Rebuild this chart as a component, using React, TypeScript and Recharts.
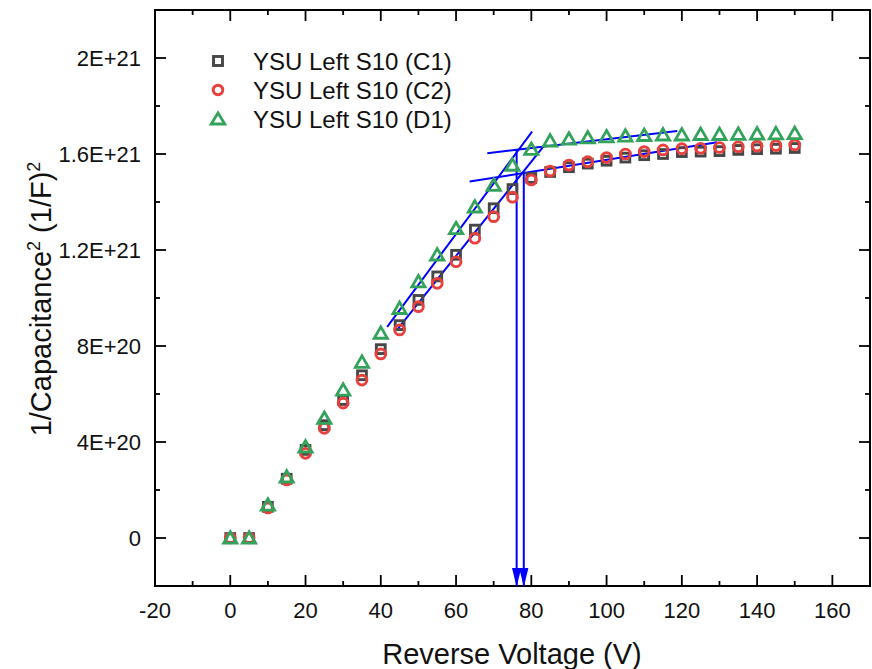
import { ScatterChart, Scatter, XAxis, YAxis, ReferenceLine, ReferenceArea, ReferenceDot } from 'recharts';

// values in units of 1e20 (1/F^2)
const UNIT = 1e20;
const voltage = [0, 5, 10, 15, 20, 25, 30, 35, 40, 45, 50, 55, 60, 65, 70, 75, 80, 85, 90, 95, 100, 105, 110, 115, 120, 125, 130, 135, 140, 145, 150];
const c1 = [0, 0, 1.3, 2.47, 3.67, 4.7, 5.75, 6.78, 7.87, 8.87, 9.92, 10.9, 11.8, 12.85, 13.74, 14.54, 15.0, 15.25, 15.45, 15.6, 15.72, 15.85, 15.95, 16.0, 16.08, 16.1, 16.12, 16.17, 16.2, 16.22, 16.25];
const c2 = [0, 0, 1.25, 2.42, 3.53, 4.57, 5.62, 6.58, 7.67, 8.67, 9.64, 10.61, 11.51, 12.49, 13.39, 14.2, 14.92, 15.29, 15.54, 15.68, 15.85, 16.0, 16.1, 16.17, 16.22, 16.24, 16.27, 16.3, 16.33, 16.35, 16.38];
const d1 = [0, 0, 1.38, 2.55, 3.8, 4.99, 6.17, 7.33, 8.54, 9.57, 10.68, 11.8, 12.9, 13.8, 14.7, 15.54, 16.2, 16.55, 16.63, 16.68, 16.72, 16.75, 16.78, 16.8, 16.8, 16.82, 16.82, 16.83, 16.84, 16.85, 16.86];

// linear fits [x, y] endpoints (y in 1e20)
const fitD1Steep = [[41.7, 8.8], [80.2, 16.93]];
const fitC1Steep = [[44.3, 8.67], [83.3, 16.33]];
const fitD1Flat = [[68.3, 16.03], [118.8, 16.96]];
const fitC1Flat = [[63.6, 14.85], [129.4, 16.49]];
const dropLeft = [[76.1, 16.18], [76.1, -2]];
const dropRight = [[78.0, 15.2], [78.0, -2]];

const xMajor = [-20, 0, 20, 40, 60, 80, 100, 120, 140, 160];
const xMinor = [-10, 10, 30, 50, 70, 90, 110, 130, 150];
const yMajor = [0, 4e20, 8e20, 1.2e21, 1.6e21, 2e21];
const yMajorLabels = ['0', '4E+20', '8E+20', '1.2E+21', '1.6E+21', '2E+21'];
const yMinor = [2e20, 6e20, 1e21, 1.4e21, 1.8e21];

const seriesNames = ['YSU Left S10 (C1)', 'YSU Left S10 (C2)', 'YSU Left S10 (D1)'];

const W = 872;
const H = 669;
const X_AXIS_H = 83;
const Y_AXIS_W = 155;
const MARGIN = { top: 10, right: 2, bottom: 0, left: 0 };
const PLOT_T = MARGIN.top;
const PLOT_B = H - X_AXIS_H;
const PLOT_R = W - MARGIN.right;
const PLOT_L = Y_AXIS_W;
const FONT = '"Liberation Sans", Arial, Helvetica, sans-serif';

const GRAY = '#474747';
const RED = '#e8403c';
const GREEN = '#33a35b';
const BLUE = '#0000ff';

const toPoints = (ys: number[]) => voltage.map((x, i) => ({ x, y: ys[i] * UNIT }));
const seg = (p: number[][]) => p.map(([x, y]) => ({ x, y: y * UNIT }));

const Square = ({ cx, cy }: any) => (
  <rect x={cx - 4.4} y={cy - 4.4} width={8.8} height={8.8} fill="none" stroke={GRAY} strokeWidth={2.9} />
);
const Circle = ({ cx, cy }: any) => <circle cx={cx} cy={cy} r={4.9} fill="none" stroke={RED} strokeWidth={2.9} />;
const Triangle = ({ cx, cy }: any) => (
  <polygon
    points={`${cx},${cy - 6.2} ${cx + 6.6},${cy + 5.2} ${cx - 6.6},${cy + 5.2}`}
    fill="none"
    stroke={GREEN}
    strokeWidth={2.8}
    strokeLinejoin="miter"
  />
);
const Arrow = ({ cx, cy }: any) => (
  <polygon points={`${cx},${cy + 1} ${cx - 4.6},${cy - 18} ${cx + 4.6},${cy - 18}`} fill={BLUE} />
);

const XTick = ({ x, payload }: any) => {
  const v = payload.value;
  const major = xMajor.includes(v);
  const len = major ? 11 : 5;
  return (
    <g>
      <line x1={x} x2={x} y1={PLOT_B} y2={PLOT_B - len} stroke="#000" strokeWidth={1.8} />
      <line x1={x} x2={x} y1={PLOT_T} y2={PLOT_T + len} stroke="#000" strokeWidth={1.8} />
      {major && (
        <text x={x} y={618} textAnchor="middle" fontSize={22} fontFamily={FONT} fill="#111">
          {v}
        </text>
      )}
    </g>
  );
};

const YTick = ({ y, payload }: any) => {
  const v = payload.value;
  const idx = yMajor.indexOf(v);
  const len = idx >= 0 ? 11 : 5;
  return (
    <g>
      <line x1={PLOT_L} x2={PLOT_L + len} y1={y} y2={y} stroke="#000" strokeWidth={1.8} />
      <line x1={PLOT_R} x2={PLOT_R - len} y1={y} y2={y} stroke="#000" strokeWidth={1.8} />
      {idx >= 0 && (
        <text x={141} y={y + 8} textAnchor="end" fontSize={22} fontFamily={FONT} fill="#111">
          {yMajorLabels[idx]}
        </text>
      )}
    </g>
  );
};

const legendIcons = [
  <rect key="s" x={-4.5} y={-4.5} width={9} height={9} fill="none" stroke={GRAY} strokeWidth={2.9} />,
  <circle key="c" cx={0} cy={0} r={4.8} fill="none" stroke={RED} strokeWidth={2.9} />,
  <polygon key="t" points="0,-6 6.8,5 -6.8,5" fill="none" stroke={GREEN} strokeWidth={2.8} />,
];

export default function App() {
  const yTicks = [...yMajor, ...yMinor].sort((a, b) => a - b);
  const xTicks = [...xMajor, ...xMinor].sort((a, b) => a - b);

  return (
    <div style={{ position: 'absolute', left: 0, top: 0, width: W, height: H, background: '#fff' }}>
      <ScatterChart width={W} height={H} margin={MARGIN}>
        <XAxis
          type="number"
          dataKey="x"
          domain={[-20, 170]}
          ticks={xTicks}
          interval={0}
          height={X_AXIS_H}
          axisLine={false}
          tickLine={false}
          tick={<XTick />}
          allowDataOverflow
        />
        <YAxis
          type="number"
          dataKey="y"
          domain={[-2e20, 2.2e21]}
          ticks={yTicks}
          interval={0}
          width={Y_AXIS_W}
          axisLine={false}
          tickLine={false}
          tick={<YTick />}
          allowDataOverflow
        />
        <ReferenceArea x1={-20} x2={170} y1={-2e20} y2={2.2e21} fill="none" stroke="#000" strokeWidth={2} ifOverflow="visible" />
        <Scatter name={seriesNames[0]} data={toPoints(c1)} shape={<Square />} isAnimationActive={false} />
        <Scatter name={seriesNames[1]} data={toPoints(c2)} shape={<Circle />} isAnimationActive={false} />
        <Scatter name={seriesNames[2]} data={toPoints(d1)} shape={<Triangle />} isAnimationActive={false} />
        {[fitD1Steep, fitC1Steep, fitD1Flat, fitC1Flat, dropLeft, dropRight].map((s, i) => (
          <ReferenceLine key={i} segment={seg(s)} stroke={BLUE} strokeWidth={2} ifOverflow="visible" />
        ))}
        <ReferenceDot x={dropLeft[1][0]} y={dropLeft[1][1] * UNIT} shape={<Arrow />} ifOverflow="visible" />
        <ReferenceDot x={dropRight[1][0]} y={dropRight[1][1] * UNIT} shape={<Arrow />} ifOverflow="visible" />
      </ScatterChart>

      <svg width={W} height={H} style={{ position: 'absolute', left: 0, top: 0, pointerEvents: 'none' }}>
        <text x={512} y={664} textAnchor="middle" fontSize={29} fontFamily={FONT} fill="#111">
          Reverse Voltage (V)
        </text>
        <text
          x={0}
          y={0}
          transform="translate(51, 299) rotate(-90)"
          textAnchor="middle"
          fontSize={29}
          fontFamily={FONT}
          fill="#111"
        >
          1/Capacitance
          <tspan dy={-11} fontSize={18}>
            2
          </tspan>
          <tspan dy={11}>{' (1/F)'}</tspan>
          <tspan dy={-11} fontSize={18}>
            2
          </tspan>
        </text>
        {seriesNames.map((n, i) => (
          <g key={n} transform={`translate(0, ${61 + i * 29})`}>
            <g transform="translate(218, 0)">{legendIcons[i]}</g>
            <text x={253} y={8.5} fontSize={24} fontFamily={FONT} fill="#111">
              {n}
            </text>
          </g>
        ))}
      </svg>
    </div>
  );
}
